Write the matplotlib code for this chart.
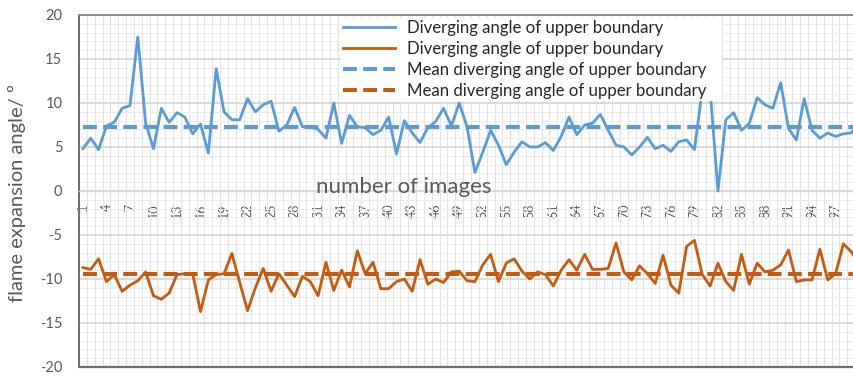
import numpy as np
import matplotlib
matplotlib.use("Agg")
import matplotlib.pyplot as plt

plt.rcParams['font.family'] = ['Lato', 'DejaVu Sans']
plt.rcParams['lines.scale_dashes'] = False
plt.rcParams['axes.unicode_minus'] = False

# values
images = np.arange(1, 101)
upper = [4.8, 6.0, 4.7, 7.4, 7.8, 9.4, 9.7, 17.5, 7.7, 4.8,
         9.4, 7.8, 8.9, 8.4, 6.5, 7.6, 4.3, 13.9, 9.0, 8.1,
         8.1, 10.5, 9.0, 9.8, 10.2, 6.8, 7.5, 9.5, 7.3, 7.3,
         7.0, 6.0, 10.0, 5.4, 8.6, 7.3, 7.2, 6.4, 6.9, 8.4,
         4.2, 8.0, 6.6, 5.5, 7.2, 7.9, 9.4, 7.4, 10.0, 7.3,
         2.1, 4.4, 6.9, 5.2, 3.0, 4.4, 5.6, 5.0, 5.0, 5.5,
         4.6, 6.2, 8.4, 6.4, 7.5, 7.7, 8.7, 6.9, 5.2, 5.0,
         4.1, 5.0, 6.1, 4.8, 5.2, 4.5, 5.6, 5.8, 4.7, 11.5,
         11.5, 0.0, 8.1, 8.9, 6.9, 7.7, 10.6, 9.8, 9.4, 12.3,
         7.1, 5.8, 10.5, 6.9, 6.0, 6.6, 6.2, 6.5, 6.6, 7.8]
lower = [-8.7, -8.9, -7.7, -10.3, -9.5, -11.4, -10.7, -10.2, -9.2, -11.9,
         -12.3, -11.6, -9.5, -9.4, -9.4, -13.7, -10.1, -9.5, -9.4, -7.1,
         -10.4, -13.6, -11.0, -8.8, -11.4, -9.4, -10.7, -12.0, -9.7, -10.3,
         -11.9, -8.1, -11.3, -9.0, -10.9, -6.8, -9.4, -8.1, -11.1, -11.1,
         -10.3, -10.0, -11.4, -7.8, -10.6, -10.0, -10.4, -9.2, -9.1, -10.2,
         -10.3, -8.4, -7.2, -10.3, -8.2, -7.7, -9.1, -10.0, -9.2, -9.5,
         -10.8, -9.0, -7.8, -9.0, -7.2, -8.9, -8.9, -8.8, -5.9, -9.2,
         -10.1, -8.5, -9.4, -10.5, -7.3, -10.7, -11.6, -6.3, -5.6, -9.5,
         -10.8, -8.2, -10.3, -11.3, -7.2, -10.6, -8.2, -9.2, -9.0, -8.4,
         -6.7, -10.3, -10.1, -10.1, -6.6, -10.1, -9.4, -6.0, -6.9, -8.3]
mean_upper = 7.3
mean_lower = -9.4

labels = ["Diverging angle of upper boundary",
          "Diverging angle of upper boundary",
          "Mean diverging angle of upper boundary",
          "Mean diverging angle of upper boundary"]

blue = '#5B9BD5'
orange = '#C55A11'
grey = '#595959'

W, H = 854, 376
fig = plt.figure(figsize=(W / 100, H / 100), dpi=100)
# plot area runs past the right edge, like the cropped original
ax = fig.add_axes([79 / W, 9 / H, 784 / W, 352 / H])

ax.plot(images, upper, color=blue, lw=2.0, label=labels[0], zorder=3)
ax.plot(images, lower, color=orange, lw=2.0, label=labels[1], zorder=3)
ax.plot(images, [mean_upper] * len(images), color=blue, lw=2.9,
        dashes=(10, 4.5), label=labels[2], zorder=4)
ax.plot(images, [mean_lower] * len(images), color=orange, lw=2.9,
        dashes=(10, 4.5), label=labels[3], zorder=4)

ax.set_xlim(0.5, 100.5)
ax.set_ylim(-20, 20)

ax.set_xticks(images[::3])
ax.set_xticks(np.arange(0.5, 101, 1), minor=True)
ax.set_yticks(np.arange(-20, 21, 5))
ax.set_yticks(np.arange(-20, 21, 1), minor=True)

ax.grid(False)
ax.grid(True, which='minor', axis='x', color='#E3E3E3', lw=0.8, zorder=0)
ax.grid(True, which='minor', axis='y', color='#ECECEC', lw=0.7, zorder=0)
ax.grid(True, which='major', axis='y', color='#D9D9D9', lw=1.4, zorder=0)

ax.tick_params(axis='x', which='both', length=0, pad=9, labelsize=9,
               labelcolor=grey, labelrotation=90)
ax.tick_params(axis='y', which='both', length=0, pad=12, labelsize=10.5,
               labelcolor=grey)
for t in ax.get_xticklabels():
    t.set_family('DejaVu Sans')

ax.spines['bottom'].set_position(('data', 0))
ax.spines['bottom'].set_color('#D9D9D9')
ax.spines['bottom'].set_linewidth(1.0)
ax.spines['right'].set_visible(False)
ax.spines['left'].set_color('#6E6E6E')
ax.spines['left'].set_linewidth(1.4)
ax.spines['top'].set_color('#8C8C8C')
ax.spines['top'].set_linewidth(1.4)
ax.axhline(-20, color='#6E6E6E', lw=1.6, clip_on=False, zorder=5)

# white legend box from x=341 to 722 px, bottom near y=96 px
leg = ax.legend(loc='upper left',
                bbox_to_anchor=(341 / W, 1 - 97 / H, 381 / W, 79 / H),
                bbox_transform=fig.transFigure, mode='expand', fontsize=12.1,
                handlelength=3.1, handletextpad=0.72, labelspacing=0.3,
                borderpad=0.12, borderaxespad=0, frameon=True,
                fancybox=False)
leg.get_frame().set_facecolor('white')
leg.get_frame().set_edgecolor('none')
leg.get_frame().set_alpha(1)
leg.set_zorder(10)
for t in leg.get_texts():
    t.set_color('#262626')

fig.text(404 / W, 1 - 187 / H, "number of images", fontsize=16,
         color=grey, ha='center', va='center')
fig.text(17 / W, 1 - 193 / H, "flame expansion angle/ º", fontsize=14.5,
         color=grey, rotation=90, ha='center', va='center')

fig.savefig("out.png", dpi=100)
